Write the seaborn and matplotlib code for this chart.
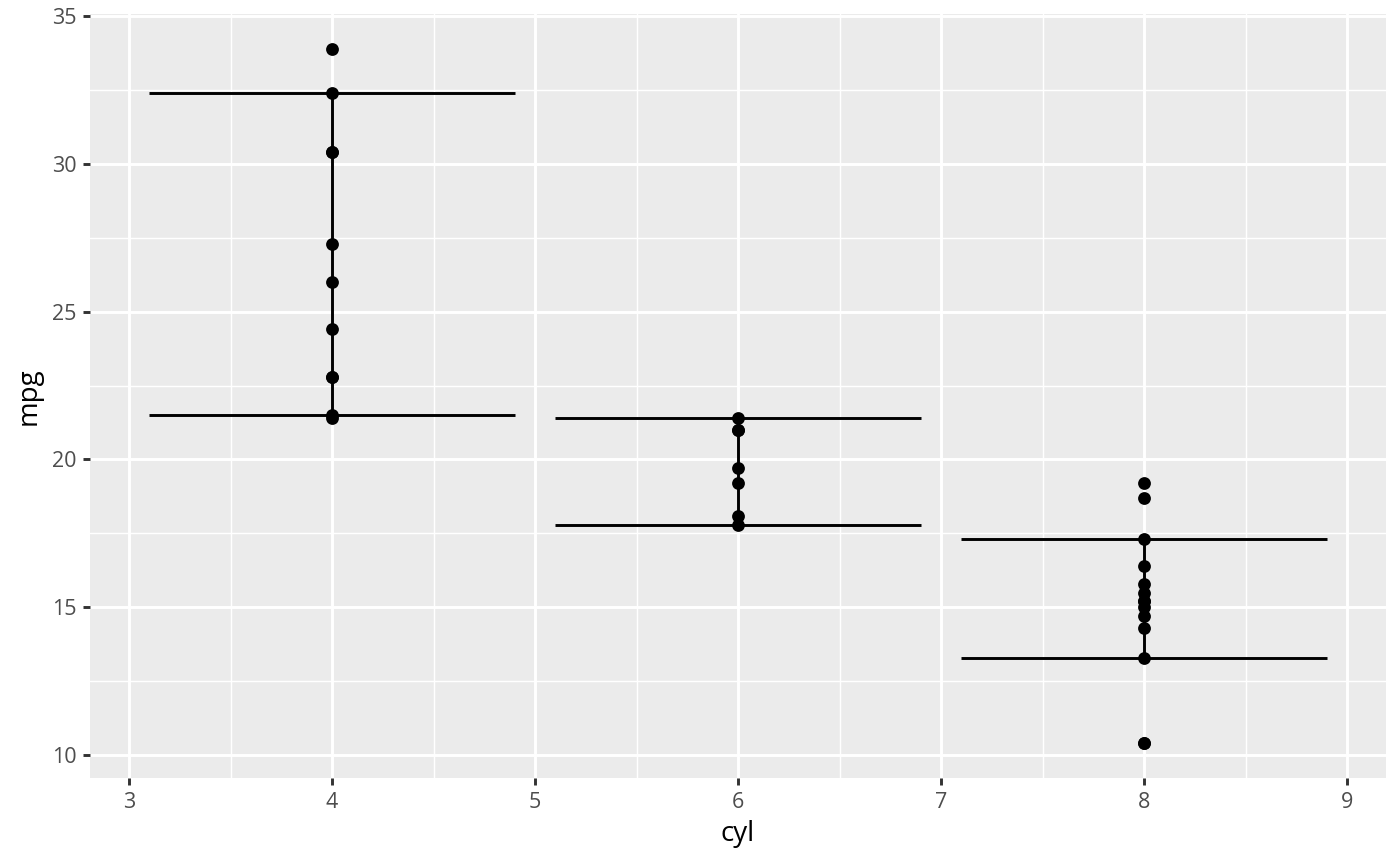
import numpy as np
import pandas as pd
import seaborn as sns
import matplotlib.pyplot as plt
from matplotlib.ticker import MultipleLocator

# mpg values by cylinder count
cyl_groups = [4, 6, 8]
mpg_cyl4 = [22.8, 24.4, 22.8, 32.4, 30.4, 33.9, 21.5, 27.3, 26.0, 30.4, 21.4]
mpg_cyl6 = [21.0, 21.0, 21.4, 18.1, 19.2, 17.8, 19.7]
mpg_cyl8 = [18.7, 14.3, 16.4, 17.3, 15.2, 10.4, 10.4, 14.7, 15.5, 15.2, 13.3, 19.2, 15.8, 15.0]

# error bar ends per group
err_lower = [21.5, 17.8, 13.3]
err_upper = [32.4, 21.4, 17.3]
err_halfwidth = 0.9

x_ticks = [3, 4, 5, 6, 7, 8, 9]
y_ticks = [10, 15, 20, 25, 30, 35]

df = pd.DataFrame({
    "cyl": [4] * len(mpg_cyl4) + [6] * len(mpg_cyl6) + [8] * len(mpg_cyl8),
    "mpg": mpg_cyl4 + mpg_cyl6 + mpg_cyl8,
})

sns.set_style("darkgrid", {"axes.facecolor": "#EBEBEB", "grid.color": "white"})
plt.rcParams["font.family"] = ["Open Sans", "DejaVu Sans"]

fig = plt.figure(figsize=(14, 8.66), dpi=100)
ax = fig.add_axes([0.0646, 0.1016, 0.9897 - 0.0646, 0.984 - 0.1016])

# error bars: vertical stem + horizontal ends
cyl_arr = np.array(cyl_groups, dtype=float)
ax.vlines(cyl_arr, err_lower, err_upper, color="black", linewidth=2.1, zorder=3)
ax.hlines(err_lower, cyl_arr - err_halfwidth, cyl_arr + err_halfwidth,
          color="black", linewidth=2.1, zorder=3)
ax.hlines(err_upper, cyl_arr - err_halfwidth, cyl_arr + err_halfwidth,
          color="black", linewidth=2.1, zorder=3)

sns.scatterplot(data=df, x="cyl", y="mpg", color="black", s=85,
                edgecolor="black", linewidth=0, ax=ax, zorder=4)

ax.set_xlim(2.81, 9.19)
ax.set_ylim(9.225, 35.075)
ax.set_xticks(x_ticks)
ax.set_yticks(y_ticks)
ax.xaxis.set_minor_locator(MultipleLocator(0.5))
ax.yaxis.set_minor_locator(MultipleLocator(2.5))
ax.grid(which="major", color="white", linewidth=2.1)
ax.grid(which="minor", color="white", linewidth=1.05)
ax.set_axisbelow(True)
for s in ax.spines.values():
    s.set_visible(False)

ax.tick_params(which="major", length=5.3, width=2.1, color="#333333",
               labelsize=15.5, labelcolor="#4D4D4D", pad=4.5)
ax.tick_params(which="minor", length=0)
ax.tick_params(axis="both", which="both", bottom=True, left=True)

ax.set_xlabel("cyl", fontsize=20, color="black", labelpad=5)
ax.set_ylabel("mpg", fontsize=20, color="black", labelpad=7)

fig.savefig("out.png", dpi=100)
